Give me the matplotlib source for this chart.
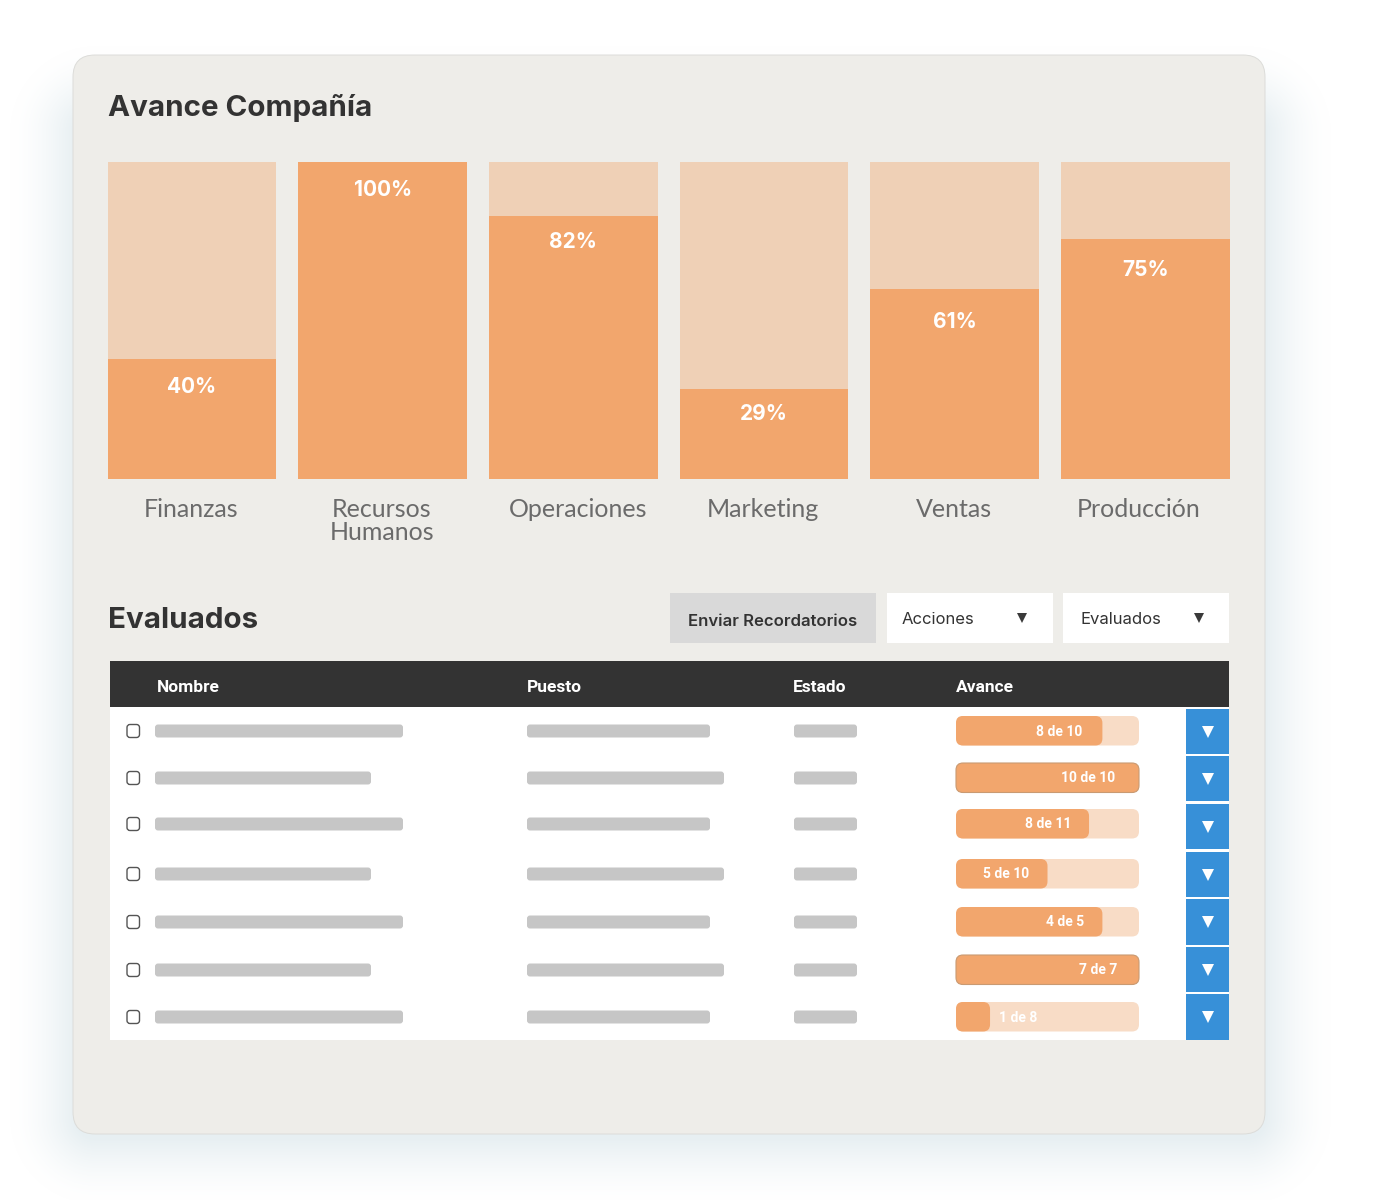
import matplotlib
matplotlib.use("Agg")
import numpy as np
from matplotlib import pyplot as plt
from matplotlib.patches import FancyBboxPatch, Rectangle

# Company chart
areas = ["Finanzas", "Recursos\nHumanos", "Operaciones", "Marketing", "Ventas", "Producción"]
bar_heights = [38, 100, 83, 28.4, 60, 75.7]
bar_labels = ["40%", "100%", "82%", "29%", "61%", "75%"]

# Table rows
table_headers = ["Nombre", "Puesto", "Estado", "Avance"]
progress_labels = ["8 de 10", "10 de 10", "8 de 11", "5 de 10", "4 de 5", "7 de 7", "1 de 8"]
progress_fill = [0.80, 1.0, 0.727, 0.50, 0.80, 1.0, 0.186]

# Layout, in reference pixels
area_label_x = [191, 382, 578, 763, 954, 1139]
bar_label_drop = [20.4, 20.4, 19, 18.3, 24, 22.6]
progress_label_x = [1059, 1088, 1048, 1006, 1065, 1098, 1018]
row_y = [731, 778, 824, 874, 922, 970, 1017]
name_ends = [403, 371, 403, 371, 403, 371, 403]
job_ends = [710, 724, 710, 724, 710, 724, 710]
button_tops = [709, 756, 804, 852, 899, 947, 994]
button_bottoms = [754, 801, 849, 897, 945, 992, 1040]

ORANGE = "#f2a66d"
LIGHT = "#efd0b6"
TRACK = "#f8dcc6"
CARD = "#eeede9"
DARK = "#333333"
BLUE = "#3790d8"
GRAY = "#c6c6c6"
HEAD_FONT = ["Inter", "DejaVu Sans"]
LABEL_FONT = ["Lato", "DejaVu Sans"]

W, H = 1400, 1200
fig = plt.figure(figsize=(W / 100, H / 100), dpi=100, facecolor="white")

# Background axes working in pixels, y going down
ax = fig.add_axes([0, 0, 1, 1])


def rrect(x0, y0, x1, y1, r, **kw):
    kw.setdefault("lw", 0)
    p = FancyBboxPatch((x0 + r, y0 + r), x1 - x0 - 2 * r, y1 - y0 - 2 * r,
                       boxstyle="round,pad=%f,rounding_size=%f" % (r, r), **kw)
    ax.add_patch(p)
    return p


# Soft shadow behind the card: distance to a rounded box, fading out over 66 px
# (stacked transparent patches round off to plain gray at 8 bits)
sx0, sy0, sx1, sy1, sr = 76, 112, 1265, 1138, 20
xx, yy = np.meshgrid(np.arange(W) + 0.5, np.arange(H) + 0.5)
qx = np.abs(xx - (sx0 + sx1) / 2) - (sx1 - sx0) / 2 + sr
qy = np.abs(yy - (sy0 + sy1) / 2) - (sy1 - sy0) / 2 + sr
dist = np.hypot(np.maximum(qx, 0), np.maximum(qy, 0)) + np.minimum(np.maximum(qx, qy), 0) - sr
fade = np.clip(1 - dist / 66, 0, 1) ** 1.6
shadow = np.ones((H, W, 3)) - fade[..., None] * np.array([24, 16, 13]) / 255
ax.imshow(shadow, extent=(0, W, H, 0), aspect="auto", interpolation="nearest", zorder=0)
ax.set_xlim(0, W)
ax.set_ylim(H, 0)
ax.axis("off")

rrect(73, 55, 1265, 1134, 22, fc=CARD, ec="#dcdcd9", lw=0.7, zorder=2)

ax.text(108, 108, "Avance Compañía", fontsize=21.3, fontweight="bold", color=DARK,
        family=HEAD_FONT, va="center", ha="left", zorder=3)
ax.text(108, 621, "Evaluados", fontsize=21.3, fontweight="bold", color=DARK,
        family=HEAD_FONT, va="center", ha="left", zorder=3)

# Bar chart in its own axes
left, right, top, bottom = 107.7, 1229.7, 162, 479
bar_ax = fig.add_axes([left / W, 1 - bottom / H, (right - left) / W, (bottom - top) / H])
bar_ax.set_xlim(-0.442, 5.442)
bar_ax.set_ylim(0, 100)
bar_ax.axis("off")
bar_ax.patch.set_alpha(0)
pos = list(range(len(areas)))
bar_ax.bar(pos, [100] * len(pos), width=0.884, color=LIGHT, lw=0)
bar_ax.bar(pos, bar_heights, width=0.884, color=ORANGE, lw=0)
for p, h, lab, drop in zip(pos, bar_heights, bar_labels, bar_label_drop):
    bar_ax.annotate(lab, (p, h), xytext=(0, -drop), textcoords="offset points", ha="center",
                    va="center", color="white", fontsize=15, fontweight="bold", family=HEAD_FONT)

for x, name in zip(area_label_x, areas):
    ax.text(x, 498, name, fontsize=18, color="#6b6b6b", family=LABEL_FONT, ha="center",
            va="top", linespacing=1.0, zorder=3)

# Buttons
ax.add_patch(Rectangle((670, 593), 206, 50, fc="#d9d9d9", lw=0, zorder=3))
ax.add_patch(Rectangle((887, 593), 166, 50, fc="white", lw=0, zorder=3))
ax.add_patch(Rectangle((1063, 593), 166, 50, fc="white", lw=0, zorder=3))
ax.text(773, 622, "Enviar Recordatorios", fontsize=12, fontweight="semibold", color=DARK,
        family=HEAD_FONT, ha="center", va="center", zorder=4)
ax.text(902, 620, "Acciones", fontsize=12, color=DARK, family=HEAD_FONT, va="center", zorder=4)
ax.text(1080, 620, "Evaluados", fontsize=12, color=DARK, family=HEAD_FONT, va="center", zorder=4)
ax.plot([1022, 1199], [618, 618], "v", color="#3a3a3a", ms=7, mew=0, zorder=4)

# Table
ax.add_patch(Rectangle((110, 707), 1119, 333, fc="white", lw=0, zorder=3))
ax.add_patch(Rectangle((110, 661), 1119, 46, fc=DARK, lw=0, zorder=3))
for x, head in zip([157, 527, 793, 956], table_headers):
    ax.text(x, 687, head, fontsize=12.5, fontweight="bold", color="white", family="Roboto",
            va="center", zorder=4)

for i, y in enumerate(row_y):
    rrect(127, y - 6.5, 139.5, y + 6.5, 3, fc="white", ec="#555555", lw=1, zorder=4)
    rrect(155, y - 6.5, name_ends[i], y + 6.5, 3, fc=GRAY, zorder=4)
    rrect(527, y - 6.5, job_ends[i], y + 6.5, 3, fc=GRAY, zorder=4)
    rrect(794, y - 6.5, 857, y + 6.5, 3, fc=GRAY, zorder=4)

    rrect(956, y - 15, 1139, y + 14.5, 7, fc=TRACK, zorder=4)
    if progress_fill[i] == 1.0:
        rrect(956, y - 15, 1139, y + 14.5, 7, fc=ORANGE, ec="#c99a72", lw=0.8, zorder=5)
    else:
        rrect(956, y - 15, 956 + 183 * progress_fill[i], y + 14.5, 7, fc=ORANGE, zorder=5)
    ax.text(progress_label_x[i], y + 0.5, progress_labels[i], fontsize=10, fontweight="bold",
            color="white", family="Roboto", ha="center", va="center", zorder=6)

    ax.add_patch(Rectangle((1186, button_tops[i]), 43, button_bottoms[i] - button_tops[i],
                           fc=BLUE, lw=0, zorder=4))
    ax.plot(1207.5, (button_tops[i] + button_bottoms[i]) / 2, "v", color="white", ms=8,
            mew=0, zorder=5)

fig.savefig("out.png", dpi=100)
